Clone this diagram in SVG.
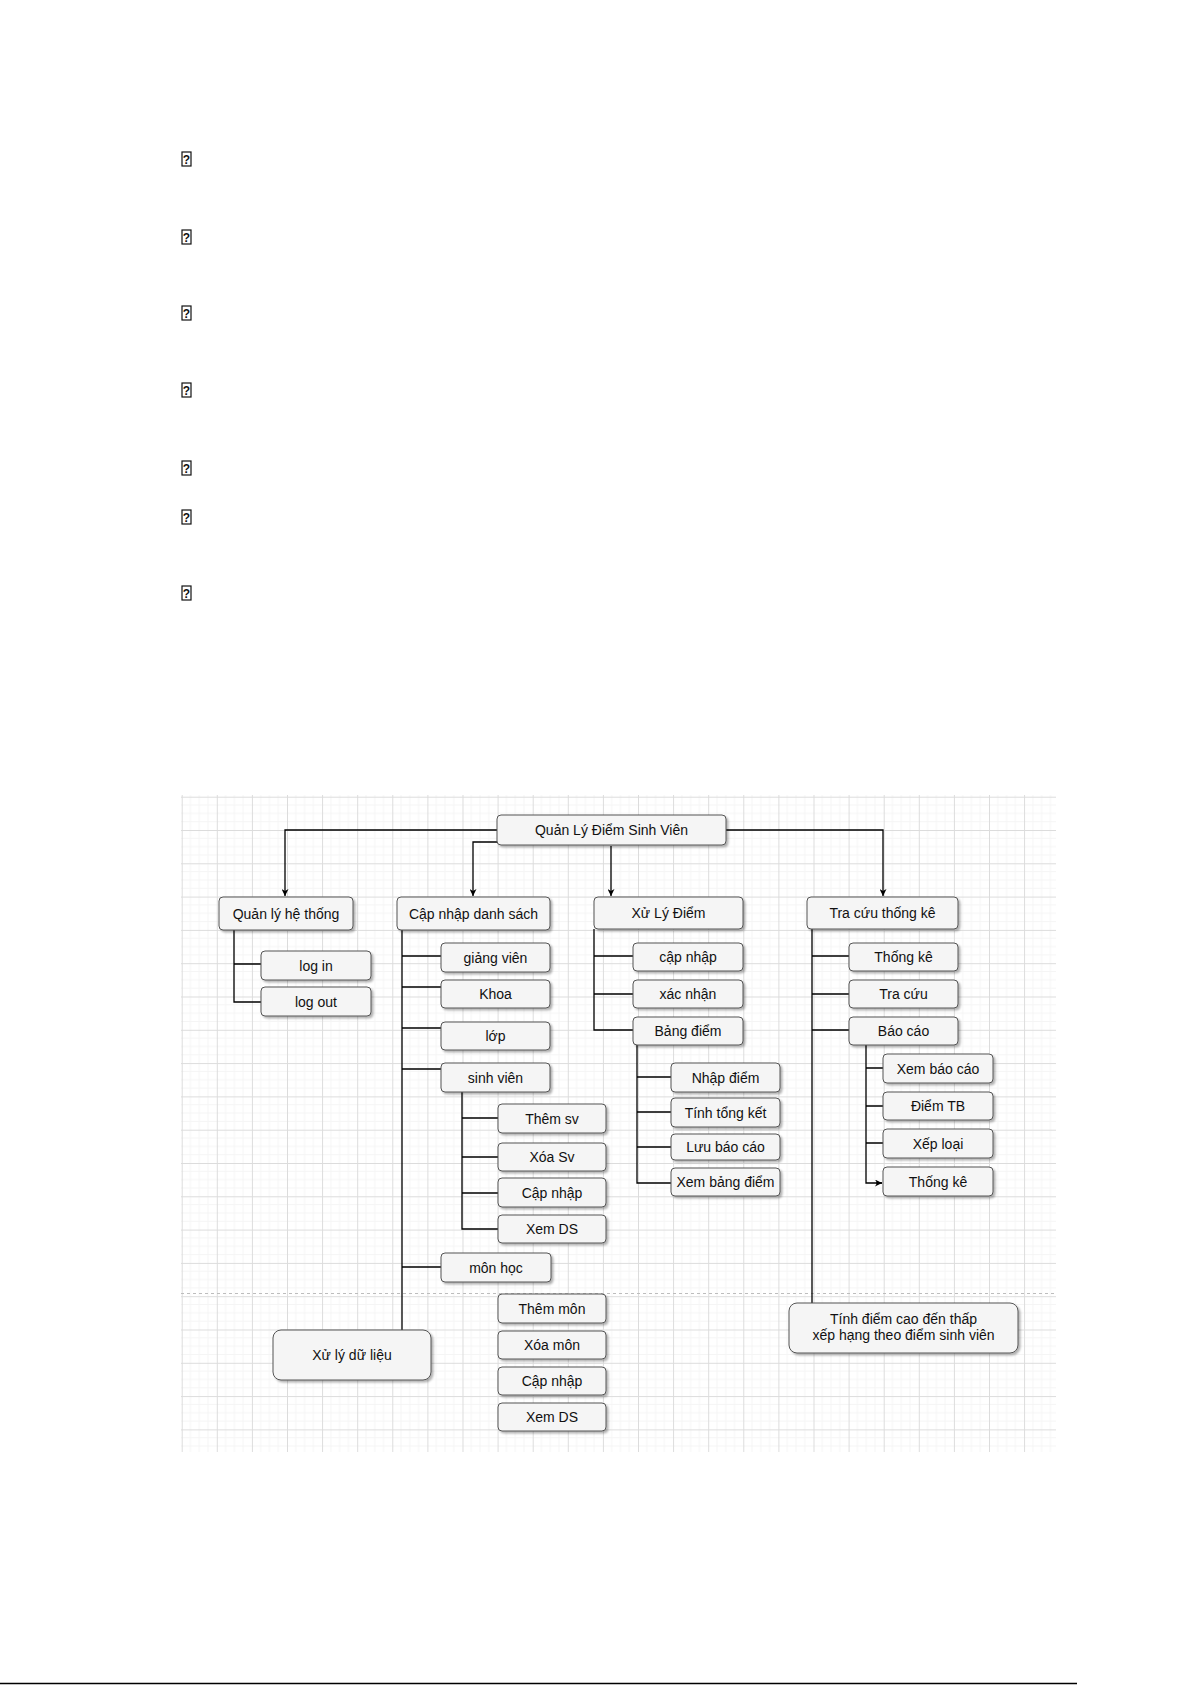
<svg xmlns="http://www.w3.org/2000/svg" width="1192" height="1685" viewBox="0 0 1192 1685">
<defs>
<pattern id="grid" patternUnits="userSpaceOnUse" x="181.7" y="796.7" width="35.1" height="33.3">
<path d="M8.78,0V33.3M17.55,0V33.3M26.33,0V33.3M0,8.33H35.1M0,16.65H35.1M0,24.98H35.1" stroke="#f5f5f5" stroke-width="1" fill="none"/>
<path d="M0.5,0V33.3M0,0.5H35.1" stroke="#dcdcdc" stroke-width="1" fill="none"/>
</pattern>
<filter id="sh" x="-10%" y="-20%" width="130%" height="160%">
<feDropShadow dx="2" dy="2" stdDeviation="1" flood-color="#000" flood-opacity="0.3"/>
</filter>
<marker id="arr" viewBox="0 0 10 10" refX="10" refY="5" markerWidth="7" markerHeight="7" markerUnits="userSpaceOnUse" orient="auto">
<path d="M0,0 L10,5 L0,10 L3,5 Z" fill="#000"/>
</marker>
</defs>
<style>
.n rect{fill:#f5f5f5;stroke:#555;stroke-width:1;filter:url(#sh)}
.n text{font-family:"Liberation Sans",Arial,sans-serif;font-size:14px;fill:#111;text-anchor:middle}
.e path{fill:none;stroke:#000;stroke-width:1.3}
.q rect{fill:#fff;stroke:#111;stroke-width:1.2}
.q text{font-family:"Liberation Sans",Arial,sans-serif;font-size:12px;font-weight:bold;fill:#111;text-anchor:middle}
</style>
<rect x="0" y="0" width="1192" height="1685" fill="#fff"/>
<g id="bullets" class="q">
<rect x="182" y="152" width="9" height="14"/><text x="186.5" y="163.5">?</text>
<rect x="182" y="230" width="9" height="14"/><text x="186.5" y="241.5">?</text>
<rect x="182" y="306" width="9" height="14"/><text x="186.5" y="317.5">?</text>
<rect x="182" y="383" width="9" height="14"/><text x="186.5" y="394.5">?</text>
<rect x="182" y="461" width="9" height="14"/><text x="186.5" y="472.5">?</text>
<rect x="182" y="510" width="9" height="14"/><text x="186.5" y="521.5">?</text>
<rect x="182" y="586" width="9" height="14"/><text x="186.5" y="597.5">?</text>
</g>
<rect x="181" y="795" width="875" height="657" fill="url(#grid)"/>
<path d="M181,1293.5H1056" stroke="#bdbdbd" stroke-width="1" stroke-dasharray="3 3" fill="none"/>
<g id="connectors" class="e">
<path d="M497,830H285V896" marker-end="url(#arr)"/>
<path d="M497,842H473V896" marker-end="url(#arr)"/>
<path d="M611,846V896" marker-end="url(#arr)"/>
<path d="M726,830H883V896" marker-end="url(#arr)"/>
<path d="M234,930V1002H261M234,964H261"/>
<path d="M402,930V1330M402,956H441M402,987H441M402,1028H441M402,1069H441M402,1267H441"/>
<path d="M462,1092V1229H498M462,1118H498M462,1157H498M462,1193H498"/>
<path d="M594,929V1030H633M594,956H633M594,994H633"/>
<path d="M637,1045V1183H671M637,1077H671M637,1112H671M637,1147H671"/>
<path d="M812,929V1303M812,956H849M812,994H849M812,1030H849"/>
<path d="M866,1045V1183H882M866,1068H883M866,1106H883M866,1143H883"/>
<path d="M876,1183H882" marker-end="url(#arr)"/>
</g>
<g id="root" class="n"><rect x="497" y="815" width="229" height="30" rx="4"/><text x="611.5" y="835">Quản Lý Điểm Sinh Viên</text></g>
<g id="qlht" class="n"><rect x="219" y="897" width="134" height="33" rx="4"/><text x="286" y="918.5">Quản lý hệ thống</text></g>
<g id="cnds" class="n"><rect x="397" y="897" width="153" height="33" rx="4"/><text x="473.5" y="918.5">Cập nhập danh sách</text></g>
<g id="xld" class="n"><rect x="594" y="897" width="149" height="32" rx="4"/><text x="668.5" y="918">Xử Lý Điểm</text></g>
<g id="tctk" class="n"><rect x="807" y="897" width="151" height="32" rx="4"/><text x="882.5" y="918">Tra cứu thống kê</text></g>
<g id="login" class="n"><rect x="261" y="951" width="110" height="29" rx="4"/><text x="316" y="970.5">log in</text></g>
<g id="logout" class="n"><rect x="261" y="987" width="110" height="29" rx="4"/><text x="316" y="1006.5">log out</text></g>
<g id="giangvien" class="n"><rect x="441" y="943" width="109" height="29" rx="4"/><text x="495.5" y="962.5">giảng viên</text></g>
<g id="khoa" class="n"><rect x="441" y="980" width="109" height="28" rx="4"/><text x="495.5" y="999">Khoa</text></g>
<g id="lop" class="n"><rect x="441" y="1022" width="109" height="28" rx="4"/><text x="495.5" y="1041">lớp</text></g>
<g id="sinhvien" class="n"><rect x="441" y="1063" width="109" height="29" rx="4"/><text x="495.5" y="1082.5">sinh viên</text></g>
<g id="themsv" class="n"><rect x="498" y="1104" width="108" height="29" rx="4"/><text x="552" y="1123.5">Thêm sv</text></g>
<g id="xoasv" class="n"><rect x="498" y="1143" width="108" height="28" rx="4"/><text x="552" y="1162">Xóa Sv</text></g>
<g id="capnhapsv" class="n"><rect x="498" y="1178" width="108" height="29" rx="4"/><text x="552" y="1197.5">Cập nhập</text></g>
<g id="xemdssv" class="n"><rect x="498" y="1215" width="108" height="28" rx="4"/><text x="552" y="1234">Xem DS</text></g>
<g id="monhoc" class="n"><rect x="441" y="1253" width="110" height="29" rx="4"/><text x="496" y="1272.5">môn học</text></g>
<g id="themmon" class="n"><rect x="498" y="1294" width="108" height="29" rx="4"/><text x="552" y="1313.5">Thêm môn</text></g>
<g id="xoamon" class="n"><rect x="498" y="1331" width="108" height="28" rx="4"/><text x="552" y="1350">Xóa môn</text></g>
<g id="capnhapmon" class="n"><rect x="498" y="1367" width="108" height="28" rx="4"/><text x="552" y="1386">Cập nhập</text></g>
<g id="xemdsmon" class="n"><rect x="498" y="1403" width="108" height="28" rx="4"/><text x="552" y="1422">Xem DS</text></g>
<g id="xulydulieu" class="n"><rect x="273" y="1330" width="158" height="50" rx="8"/><text x="352" y="1360">Xử lý dữ liệu</text></g>
<g id="capnhap" class="n"><rect x="633" y="943" width="110" height="28" rx="4"/><text x="688" y="962">cập nhập</text></g>
<g id="xacnhan" class="n"><rect x="633" y="980" width="110" height="28" rx="4"/><text x="688" y="999">xác nhận</text></g>
<g id="bangdiem" class="n"><rect x="633" y="1017" width="110" height="28" rx="4"/><text x="688" y="1036">Bảng điểm</text></g>
<g id="nhapdiem" class="n"><rect x="671" y="1063" width="109" height="29" rx="4"/><text x="725.5" y="1082.5">Nhập điểm</text></g>
<g id="tinhtongket" class="n"><rect x="671" y="1098" width="109" height="29" rx="4"/><text x="725.5" y="1117.5">Tính tổng kết</text></g>
<g id="luubaocao" class="n"><rect x="671" y="1134" width="109" height="26" rx="4"/><text x="725.5" y="1152">Lưu báo cáo</text></g>
<g id="xembangdiem" class="n"><rect x="671" y="1168" width="109" height="28" rx="4"/><text x="725.5" y="1187">Xem bảng điểm</text></g>
<g id="thongke" class="n"><rect x="849" y="943" width="109" height="28" rx="4"/><text x="903.5" y="962">Thống kê</text></g>
<g id="tracuu" class="n"><rect x="849" y="980" width="109" height="28" rx="4"/><text x="903.5" y="999">Tra cứu</text></g>
<g id="baocao" class="n"><rect x="849" y="1017" width="109" height="28" rx="4"/><text x="903.5" y="1036">Báo cáo</text></g>
<g id="xembaocao" class="n"><rect x="883" y="1054" width="110" height="29" rx="4"/><text x="938" y="1073.5">Xem báo cáo</text></g>
<g id="diemtb" class="n"><rect x="883" y="1092" width="110" height="28" rx="4"/><text x="938" y="1111">Điểm TB</text></g>
<g id="xeploai" class="n"><rect x="883" y="1129" width="110" height="29" rx="4"/><text x="938" y="1148.5">Xếp loại</text></g>
<g id="thongke2" class="n"><rect x="883" y="1167" width="110" height="29" rx="4"/><text x="938" y="1186.5">Thống kê</text></g>
<g id="tinhdiem" class="n"><rect x="789" y="1303" width="229" height="50" rx="8"/><text x="903.5" y="1324">Tính điểm cao đến thấp</text><text x="903.5" y="1340">xếp hạng theo điểm sinh viên</text></g>
<path d="M0,1683.5H1077" stroke="#000" stroke-width="1.5" fill="none"/>
</svg>
